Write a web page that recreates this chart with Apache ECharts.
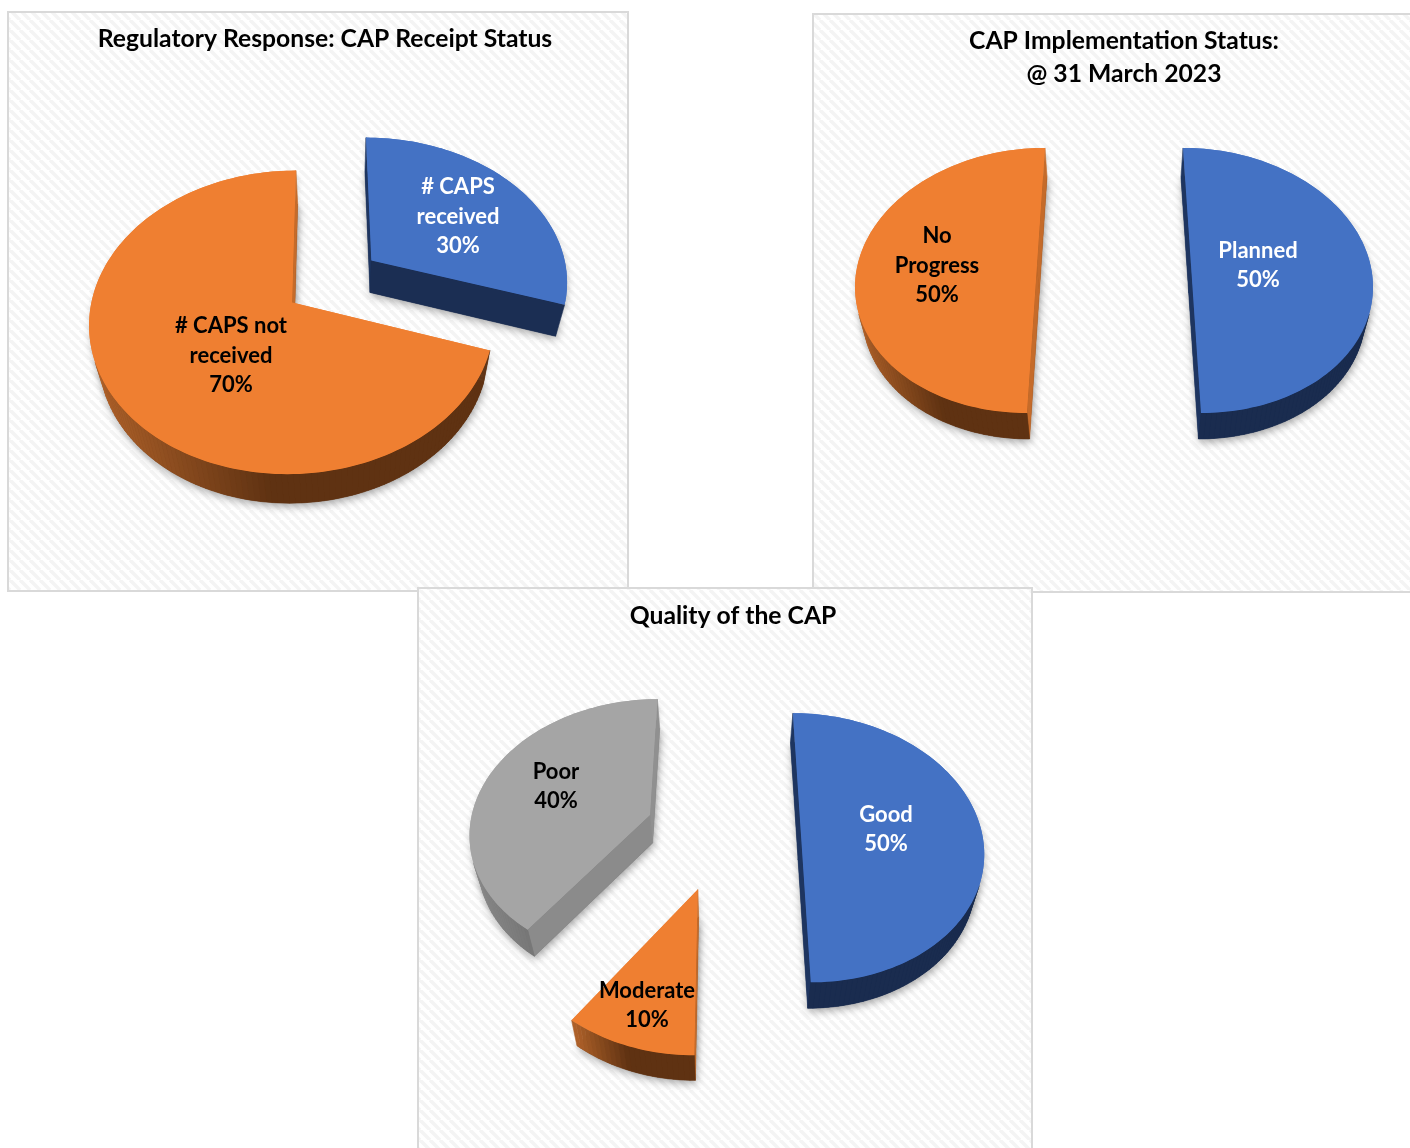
<!DOCTYPE html>
<html><head><meta charset="utf-8">
<style>html,body{margin:0;padding:0;background:#fff}#c{width:1410px;height:1148px}</style>
<script src="https://cdn.jsdelivr.net/npm/echarts@6/dist/echarts.min.js"></script>
</head><body><div id="c"></div>
<script>
// ---- data ----
const receiptCategories = ['# CAPS\nreceived', '# CAPS not\nreceived'];
const receiptValues = [30, 70];
const implementationCategories = ['Planned', 'No\nProgress'];
const implementationValues = [50, 50];
const qualityCategories = ['Good', 'Moderate', 'Poor'];
const qualityValues = [50, 10, 40];
const titles = ['Regulatory Response: CAP Receipt Status', 'CAP Implementation Status:\n@ 31 March 2023', 'Quality of the CAP'];

// ---- styles and layout ----
const FONT = 'Lato';
const PAL = {
  blue:   {top:'#4472c4', light:'#1a2c4f', dark:'#1a2c4f', wallSide:'#1e3560', wallFront:'#1a2c4f', text:'#fff'},
  orange: {top:'#ef7f31', light:'#b0622a', dark:'#5f3212', wallSide:'#c56b2a', wallFront:'#5f3212', text:'#000'},
  grey:   {top:'#a5a5a5', light:'#8a8a8a', dark:'#6e6e6e', wallSide:'#909090', wallFront:'#7f7f7f', text:'#000'}
};
const views = [
  {x0:332.5,y0:281,a:197,p:.129,vx:324,vy:-832,e:.249,kx:.04,ky:.0145,nx:340,ny:2474,colors:['blue','orange'],labels:[[458,216.5],[231,355.5]]},
  {x0:1114,y0:265.2,a:179.5,p:.1153,vx:1114,vy:-869,e:.429,kx:.03,ky:.0115,nx:1114,ny:2670,colors:['blue','orange'],labels:[[1258,265.5],[937,265.5]]},
  {x0:723,y0:832.5,a:181,p:.1135,vx:723,vy:-338,e:.43,kx:.035,ky:.0115,nx:723,ny:3233,colors:['blue','orange','grey'],labels:[[886,829.5],[647,1005.5],[556,786.5]]}
];

function hatch(){
  const n=10,c=document.createElement('canvas');c.width=c.height=n;
  const g=c.getContext('2d');g.fillStyle='#fff';g.fillRect(0,0,n,n);
  g.strokeStyle='#f4f4f4';g.lineWidth=3.6;
  for(const o of [-n,0,n]){g.beginPath();g.moveTo(o,0);g.lineTo(o+n,n);g.stroke();}
  return c;
}
function hex(c){return [1,3,5].map(i=>parseInt(c.substr(i,2),16));}
function mix(a,b,t){const A=hex(a),B=hex(b);return 'rgb('+A.map((v,i)=>Math.round(v+(B[i]-v)*t)).join(',')+')';}

function renderer(view, categories){
  const project=(x,y)=>{const w=1+view.p*y;return [(view.x0+view.a*x+view.vx*view.p*y)/w,(view.y0+view.vy*view.p*y)/w];};
  const drop=P=>[P[0]+view.kx*(view.nx-P[0]),P[1]+view.ky*(view.ny-P[1])];
  return function(params, api){
    const i=params.dataIndex, n=params.dataInsideLength;
    let total=0,before=0;
    const all=params.context.vals||(params.context.vals=Array.from({length:n},(_,k)=>api.value(0,k)));
    all.forEach((v,k)=>{total+=v;if(k<i)before+=v;});
    const t0=before/total*2*Math.PI,t1=(before+all[i])/total*2*Math.PI,mid=(t0+t1)/2;
    const ox=view.e*Math.sin(mid),oy=view.e*Math.cos(mid);
    const pal=PAL[view.colors[i]];
    const steps=Math.ceil((t1-t0)/(Math.PI/120));
    const arc=[];
    for(let s=0;s<=steps;s++){const t=t0+(t1-t0)*s/steps;arc.push({t,P:project(ox+Math.sin(t),oy+Math.cos(t))});}
    const apex=project(ox,oy);
    const outline=[apex].concat(arc.map(a=>a.P));
    const xs=arc.map(a=>a.P[0]);const xmin=Math.min(...xs),xmax=Math.max(...xs);
    const kids=[];
    kids.push({type:'polygon',shape:{points:outline.map(drop)},style:{fill:pal.dark,shadowBlur:8,shadowColor:'rgba(0,0,0,.36)',shadowOffsetX:1,shadowOffsetY:3}});
    kids.push({type:'polygon',shape:{points:outline},style:{fill:pal.top,shadowBlur:7,shadowColor:'rgba(0,0,0,.22)',shadowOffsetX:1,shadowOffsetY:6}});
    const wall=(A,B,fill)=>{
      const dA=drop(A),dB=drop(B);
      const vis=(B[1]-A[1])*(dA[0]-A[0])-(B[0]-A[0])*(dA[1]-A[1]);
      if(vis<=0)return;
      kids.push({type:'polygon',shape:{points:[A,B,dB,dA]},style:{fill,stroke:fill,lineWidth:.6}});
    };
    const radialFill=(A,B)=>{
      const len=Math.hypot(B[0]-A[0],B[1]-A[1]);
      return mix(pal.wallFront,pal.wallSide,Math.abs(B[1]-A[1])/len);
    };
    wall(apex,arc[0].P,radialFill(apex,arc[0].P));
    wall(arc[steps].P,apex,radialFill(arc[steps].P,apex));
    for(let s=0;s<steps;s++){
      const A=arc[s].P,B=arc[s+1].P;
      const f=Math.max(0,Math.min(1,1-((A[0]+B[0])/2-xmin)/(.45*(xmax-xmin))));
      wall(A,B,mix(pal.dark,pal.light,f));
    }
    kids.push({type:'polygon',shape:{points:outline},style:{fill:pal.top}});
    const L=view.labels[i];
    kids.push({type:'text',style:{text:categories[i]+'\n'+all[i]+'%',x:L[0],y:L[1],fill:pal.text,
      font:'bold 22px '+FONT,align:'center',verticalAlign:'middle',lineHeight:29.5}});
    return {type:'group',children:kids};
  };
}
function pieSeries(name,categories,values,view){
  return {type:'custom',name,coordinateSystem:'none',silent:true,animation:false,clip:false,
    data:values.map((v,i)=>({name:categories[i],value:[v]})),
    encode:{value:0},renderItem:renderer(view,categories)};
}
const chart=echarts.init(document.getElementById('c'),null,{renderer:'canvas'});
const tile=hatch();
const panel=(x,y,w,h,z)=>({type:'rect',z,shape:{x,y,width:w,height:h},style:{fill:{image:tile,repeat:'repeat'},stroke:'#d9d9d9',lineWidth:2},silent:true});
const ttl=(text,x,y)=>({text,left:x,top:y,textAlign:'center',padding:0,itemGap:0,
  textStyle:{fontFamily:FONT,fontWeight:'bold',fontSize:24.7,color:'#000',lineHeight:33}});
chart.setOption({
  animation:false,backgroundColor:'#fff',
  title:[ttl(titles[0],325,22.5),ttl(titles[1],1124,25),ttl(titles[2],733,600)],
  graphic:{elements:[panel(8,12,620,579,-3),panel(813,14,620,578,-3),panel(418,588,614,580,-2)]},
  series:[
    pieSeries('CAP Receipt Status',receiptCategories,receiptValues,views[0]),
    pieSeries('CAP Implementation Status',implementationCategories,implementationValues,views[1]),
    pieSeries('Quality of the CAP',qualityCategories,qualityValues,views[2])
  ]
});
</script></body></html>
